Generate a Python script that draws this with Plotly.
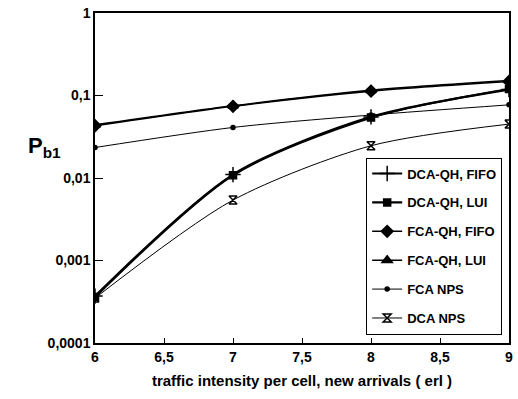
import plotly.graph_objects as go

x_vals = [6, 7, 8, 9]
dca_qh_fifo = [0.00037, 0.0110, 0.055, 0.118]
dca_qh_lui = [0.00036, 0.0108, 0.054, 0.120]
fca_qh_fifo = [0.043, 0.074, 0.113, 0.148]
fca_qh_lui = [0.044, 0.075, 0.116, 0.152]
fca_nps = [0.0234, 0.041, 0.058, 0.077]
dca_nps = [0.00035, 0.0054, 0.0246, 0.045]

names = ["DCA-QH, FIFO", "DCA-QH, LUI", "FCA-QH, FIFO", "FCA-QH, LUI", "FCA NPS", "DCA NPS"]
series = [dca_qh_fifo, dca_qh_lui, fca_qh_fifo, fca_qh_lui, fca_nps, dca_nps]
symbols = ["cross-thin-open", "square", "diamond", "triangle-up", "circle", "hourglass-open"]
sizes = [11, 7, 9, 9, 4, 8]
widths = [2.2, 2.2, 1.6, 1.6, 1, 1]

ytick_vals = [1, 0.1, 0.01, 0.001, 0.0001]
ytick_text = ["1", "0,1", "0,01", "0,001", "0,0001"]
xtick_vals = [6, 6.5, 7, 7.5, 8, 8.5, 9]
xtick_text = ["6", "6,5", "7", "7,5", "8", "8,5", "9"]

fig = go.Figure()
for i, (n, s, sym, sz, w) in enumerate(zip(names, series, symbols, sizes, widths)):
    fig.add_trace(go.Scatter(
        x=x_vals, y=s, name=n, mode="lines+markers", legendgroup=f"g{i}",
        line=dict(color="black", width=w, shape="spline", smoothing=0.8),
        marker=dict(symbol=sym, size=sz, color="black",
                    line=dict(color="black", width=1.5)),
    ))

font_family = "Liberation Sans, Arial, sans-serif"
fig.update_layout(
    width=518, height=399,
    margin=dict(l=95, r=5, t=12, b=56),
    plot_bgcolor="white", paper_bgcolor="white",
    font=dict(family=font_family, size=13, color="black"),
    showlegend=True,
    legend=dict(x=0.655, y=0.562, xanchor="left", yanchor="top",
                bordercolor="black", borderwidth=1, bgcolor="white",
                font=dict(size=13, family=font_family, weight="bold"),
                tracegroupgap=9, itemwidth=30),
    xaxis=dict(range=[6, 9], tickvals=xtick_vals, ticktext=xtick_text,
               ticks="inside", ticklen=5, tickcolor="black",
               showline=True, linecolor="black", linewidth=1.5, mirror=True,
               showgrid=False, zeroline=False,
               tickfont=dict(size=14, family=font_family, weight="bold"),
               title=dict(text="traffic intensity per cell, new arrivals ( erl )",
                          font=dict(size=15, family=font_family, weight="bold"),
                          standoff=12)),
    yaxis=dict(type="log", range=[-4, 0], tickvals=ytick_vals, ticktext=ytick_text,
               ticks="inside", ticklen=8, tickcolor="black",
               showline=True, linecolor="black", linewidth=1.5, mirror=True,
               showgrid=False, zeroline=False,
               tickfont=dict(size=14, family=font_family, weight="bold")),
)
fig.add_annotation(x=-0.167, y=0.595, xref="paper", yref="paper", showarrow=False,
                   text="P<sub>b1</sub>",
                   font=dict(size=22, family=font_family, weight="bold"))
fig.write_html("out.html")
